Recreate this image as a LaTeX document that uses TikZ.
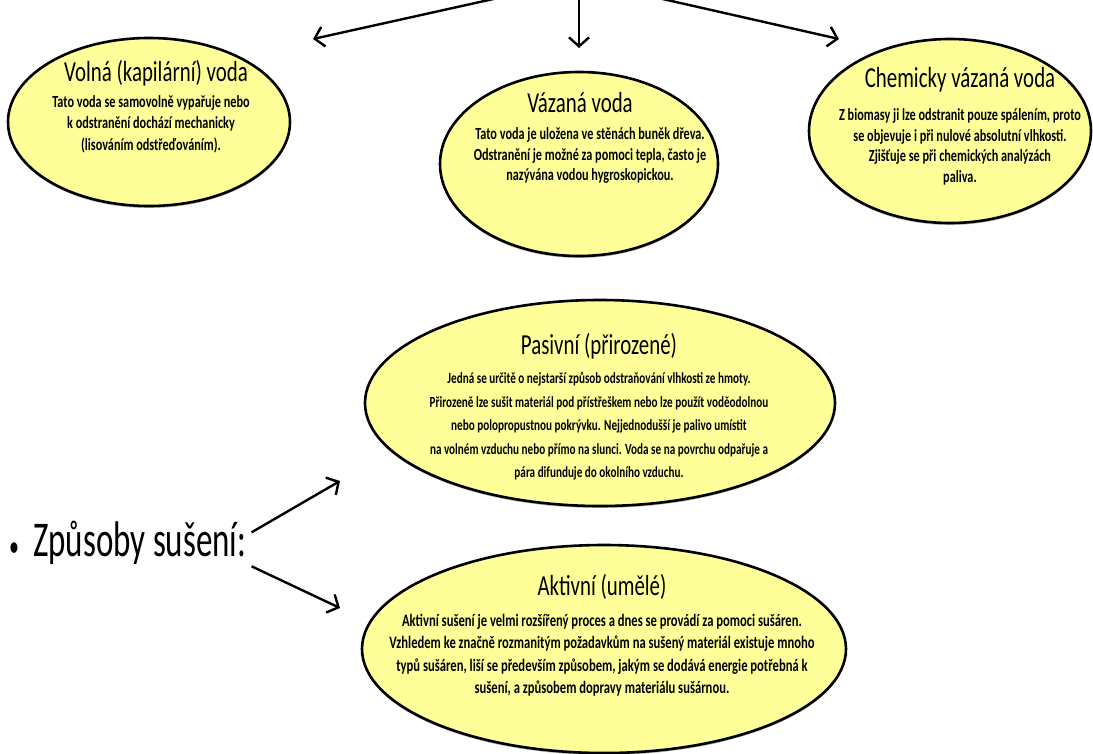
\documentclass[tikz,border=0pt]{standalone}
\usepackage{fontspec}
\setmainfont{Carlito}[FakeStretch=0.72]
\newfontfamily\bignarrow{Carlito}[FakeStretch=0.66]
\usetikzlibrary{positioning,shapes.geometric,arrows.meta,shadows}
\definecolor{blobyellow}{RGB}{255,255,153}

\begin{document}
\begin{tikzpicture}[x=1pt,y=-1pt,
>={Straight Barb[length=9pt,width=20pt]},
blob/.style={ellipse, draw=black, fill=blobyellow, line width=2.6pt, inner sep=0pt,
  drop shadow={shadow xshift=0pt, shadow yshift=-2pt, fill=black!55}},
heading/.style={font=\fontsize{29}{31}\selectfont, inner sep=0pt},
body/.style={font=\bfseries\fontsize{17}{20.5}\selectfont, align=center, inner sep=0pt},
link/.style={->, line width=2.4pt}
]
\useasboundingbox (0,0) rectangle (1093,753);
\clip (0,0) rectangle (1093,753);

% kinds of water
\node[blob, minimum width=282pt, minimum height=168pt] (volna) at (149,122) {};
\node[blob, minimum width=278pt, minimum height=184pt] (vazana) at (579,164) {};
\node[blob, minimum width=282pt, minimum height=184pt] (chem) at (950,131) {};

\node[heading] (volna_t) at (156,73) {Volná (kapilární) voda};
\node[body](volna_b)[below=9pt of volna_t, xshift=-5pt, font=\bfseries\fontsize{17}{21.5}\selectfont]{Tato voda se samovolně vypařuje nebo\\
k odstranění dochází mechanicky\\ (lisováním odstřeďováním).};

\node[heading] (vazana_t) at (580,103) {Vázaná voda};
\node[body](vazana_b)[below=14pt of vazana_t, xshift=10pt]{Tato voda je uložena ve stěnách buněk dřeva.\\
Odstranění je možné za pomoci tepla, často je\\ nazývána vodou hygroskopickou.};

\node[heading] (chem_t) at (960,80) {Chemicky vázaná voda};
\node[body](chem_b)[below=16pt of chem_t]{Z biomasy ji lze odstranit pouze spálením, proto\\
se objevuje i při nulové absolutní vlhkosti.\\ Zjišťuje se při chemických analýzách\\ paliva.};

\coordinate (water) at (579,-20);
\coordinate (volna_in) at (313,39);
\coordinate (vazana_in) at (579,48);
\coordinate (chem_in) at (839,39);
\draw[link] (water) -- (volna_in);
\draw[link] (water) -- (vazana_in);
\draw[link] (water) -- (chem_in);

% drying
\node[blob, minimum width=470pt, minimum height=206pt] (pasivni) at (600,403) {};
\node[blob, minimum width=484pt, minimum height=208pt] (aktivni) at (604,649) {};

\node[heading] (pasivni_t) at (599,346) {Pasivní (přirozené)};
\node[body](pasivni_b)[below=13pt of pasivni_t, font=\bfseries\fontsize{15.5}{23.5}\selectfont]{Jedná se určitě o nejstarší způsob odstraňování vlhkosti ze hmoty.\\
Přirozeně lze sušit materiál pod přístřeškem nebo lze použít voděodolnou\\
nebo polopropustnou pokrývku. Nejjednodušší je palivo umístit\\
na volném vzduchu nebo přímo na slunci. Voda se na povrchu odpařuje a\\
pára difunduje do okolního vzduchu.};

\node[heading] (aktivni_t) at (602,587) {Aktivní (umělé)};
\node[body](aktivni_b)[below=14pt of aktivni_t, font=\bfseries\fontsize{17.5}{22.5}\selectfont]{Aktivní sušení je velmi rozšířený proces a dnes se provádí za pomoci sušáren.\\
Vzhledem ke značně rozmanitým požadavkům na sušený materiál existuje mnoho\\
typů sušáren, liší se především způsobem, jakým se dodává energie potřebná k\\
sušení, a způsobem dopravy materiálu sušárnou.};

\node[anchor=base west, inner sep=0pt, font=\bignarrow\fontsize{50}{54}\selectfont] (zpusoby) at (9,556)
  {{\fontsize{30}{30}\selectfont\textbullet}\hspace{14pt}Způsoby sušení:};
\coordinate (pasivni_in) at (340,481);
\coordinate (aktivni_in) at (340,608);
\draw[link] ([shift={(5,-10)}]zpusoby.east) -- (pasivni_in);
\draw[link] ([shift={(5,24)}]zpusoby.east) -- (aktivni_in);
\end{tikzpicture}
\end{document}
